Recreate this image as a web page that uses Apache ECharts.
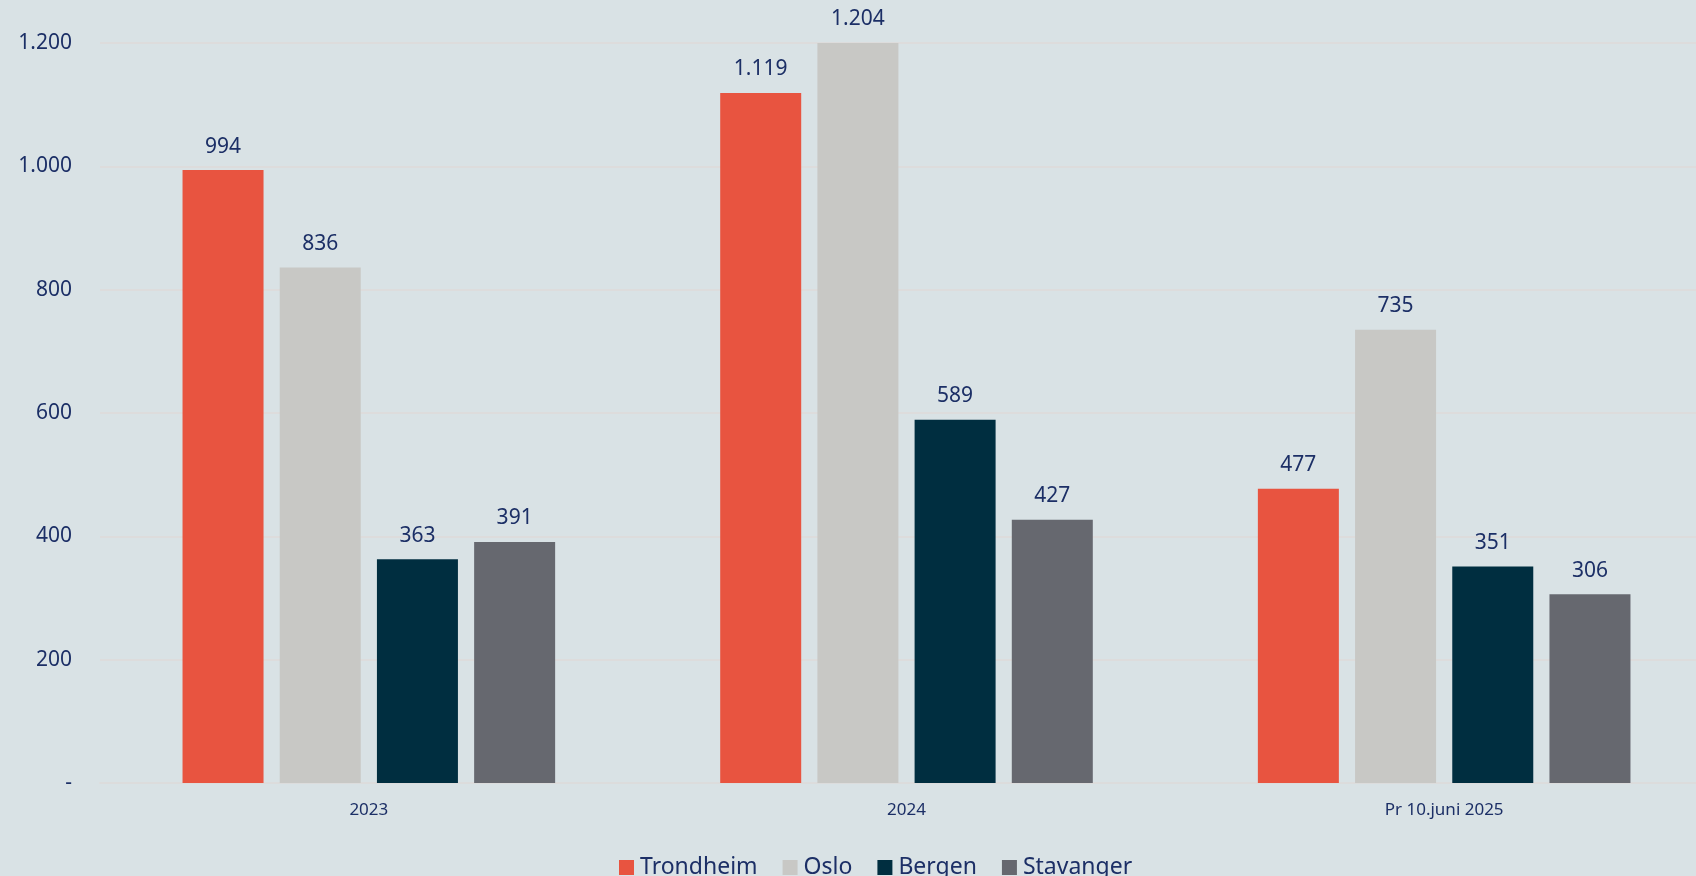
<!DOCTYPE html>
<html>
<head>
<meta charset="utf-8">
<script src="https://cdn.jsdelivr.net/npm/echarts@6/dist/echarts.min.js"></script>
<style>
html,body{margin:0;padding:0;background:#D9E2E5;}
#c{width:1696px;height:876px;}
</style>
</head>
<body>
<div id="c"></div>
<script>
const categories = ['2023', '2024', 'Pr 10.juni 2025'];
const seriesNames = ['Trondheim', 'Oslo', 'Bergen', 'Stavanger'];
const trondheim = [994, 1119, 477];
const oslo = [836, 1204, 735];
const bergen = [363, 589, 351];
const stavanger = [391, 427, 306];
const yTicks = [0, 200, 400, 600, 800, 1000, 1200];

const colors = ['#E85440', '#C8C8C5', '#002E40', '#66686F'];
const textColor = '#1C2F66';
const font = '"Noto Sans", "Open Sans", sans-serif';

function fmt(v) {
  if (v === 0) return '-';
  return String(v).replace(/\B(?=(\d{3})+(?!\d))/g, '.');
}

const values = [trondheim, oslo, bergen, stavanger];
const chart = echarts.init(document.getElementById('c'), null, {renderer: 'canvas'});
chart.setOption({
  backgroundColor: '#D9E2E5',
  animation: false,
  textStyle: {fontFamily: font},
  grid: {left: 100, width: 1613, top: 43, bottom: 93, containLabel: false, outerBoundsMode: 'none'},
  legend: {
    data: seriesNames,
    left: 614,
    top: 851,
    itemWidth: 15,
    itemHeight: 15,
    itemGap: 25,
    icon: 'rect',
    textStyle: {color: textColor, fontSize: 23, fontFamily: font, padding: [0, 0, 0, 1]}
  },
  xAxis: {
    type: 'category',
    data: categories,
    axisLine: {show: true, lineStyle: {color: '#DCDCDC', width: 2}},
    axisTick: {show: false},
    axisLabel: {color: textColor, fontSize: 17, margin: 19, fontFamily: font}
  },
  yAxis: {
    type: 'value',
    min: 0,
    max: 1200,
    interval: 200,
    axisLine: {show: false},
    axisTick: {show: false},
    splitLine: {lineStyle: {color: '#DDDCDC', width: 2}},
    axisLabel: {color: textColor, fontSize: 21, margin: 28, fontFamily: font,
      formatter: function (v) { return yTicks.indexOf(v) >= 0 ? fmt(v) : ''; }}
  },
  series: seriesNames.map(function (name, i) {
    return {
      name: name,
      type: 'bar',
      data: values[i],
      barWidth: 81,
      barGap: '20%',
      itemStyle: {color: colors[i]},
      label: {
        show: true,
        position: 'top',
        distance: 13,
        color: textColor,
        fontSize: 21,
        fontFamily: font,
        formatter: function (p) { return fmt(p.value); }
      }
    };
  })
});
</script>
</body>
</html>
